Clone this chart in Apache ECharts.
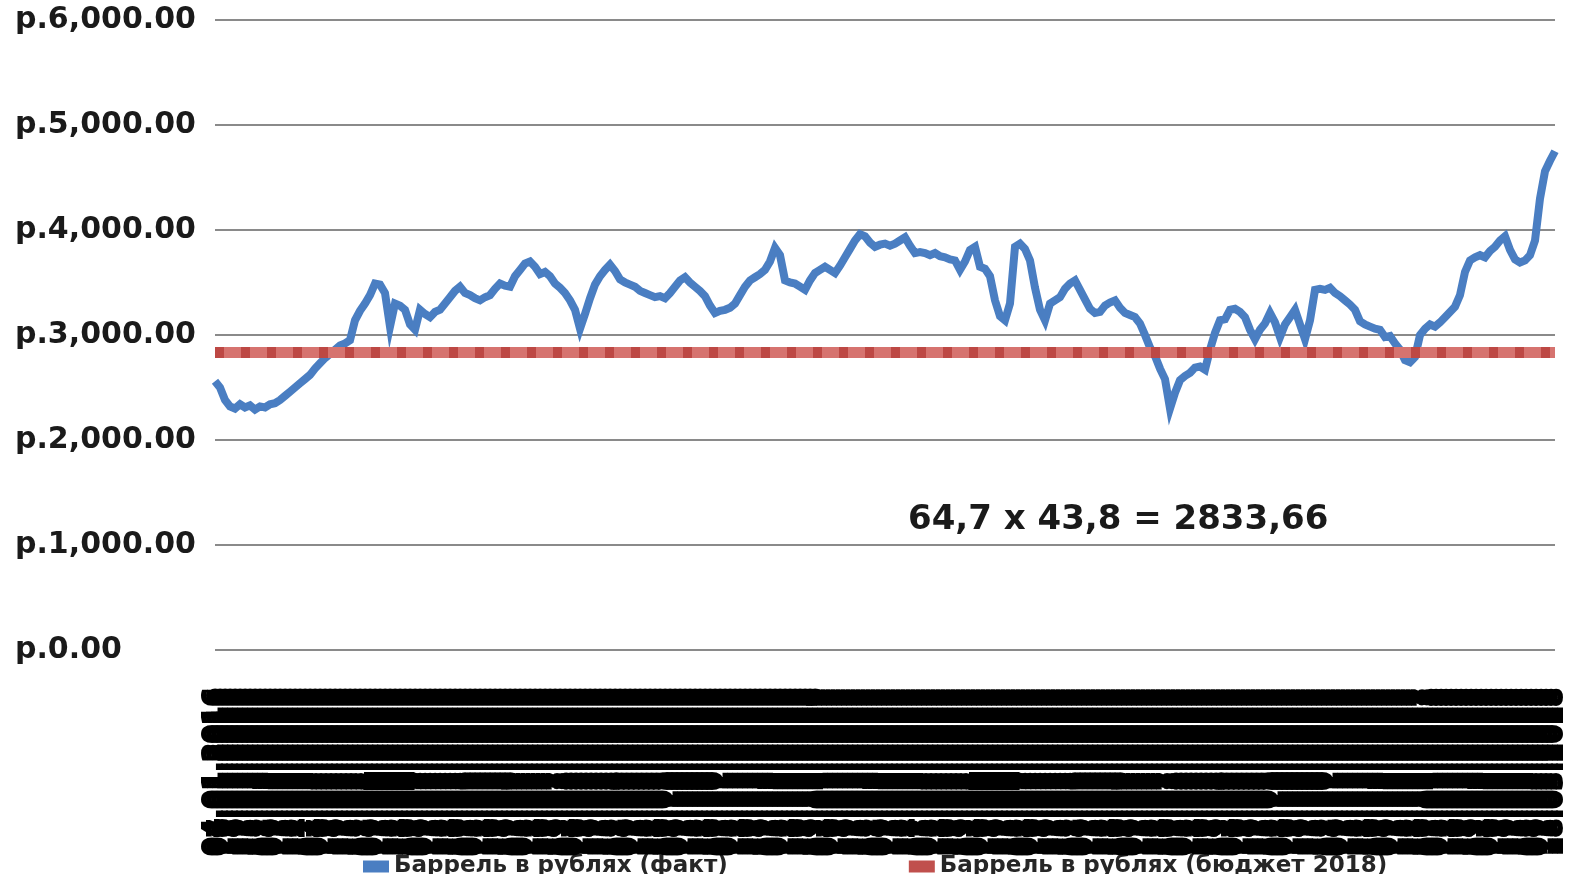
<!DOCTYPE html>
<html>
<head>
<meta charset="utf-8">
<style>
  html, body { margin: 0; padding: 0; background: #ffffff; }
  #chart { width: 1572px; height: 874px; }
</style>
<script src="https://cdn.jsdelivr.net/npm/echarts@6/dist/echarts.min.js"></script>
</head>
<body>
<div id="chart"></div>
<script>
// Цена барреля Brent в рублях: факт против заложенной в бюджет 2018
const seriesNames = ['Баррель в рублях (факт)', 'Баррель в рублях (бюджет 2018)'];

// Фактическая цена барреля, руб.
const factValues = [
  2560, 2500, 2380, 2320, 2300, 2340, 2310, 2330, 2290, 2320,
  2310, 2340, 2350, 2380, 2420, 2460, 2500, 2540, 2580, 2620,
  2680, 2730, 2780, 2820, 2860, 2900, 2920, 2950, 3140, 3230,
  3300, 3380, 3490, 3480, 3400, 3080, 3300, 3280, 3240, 3100,
  3050, 3240, 3200, 3170, 3220, 3240, 3300, 3360, 3420, 3460,
  3400, 3380, 3350, 3330, 3360, 3380, 3440, 3490, 3470, 3460,
  3560, 3620, 3680, 3700, 3650, 3580, 3600, 3560, 3490, 3450,
  3400, 3330, 3240, 3060, 3200, 3350, 3480, 3560, 3620, 3670,
  3610, 3530, 3500, 3480, 3460, 3420, 3400, 3380, 3360, 3370,
  3350, 3400, 3460, 3520, 3550, 3500, 3460, 3420, 3370, 3280,
  3210, 3230, 3240, 3260, 3300, 3380, 3460, 3520, 3550, 3580,
  3620, 3700, 3830, 3760, 3520, 3500, 3490, 3460, 3430, 3520,
  3590, 3620, 3650, 3620, 3590, 3660, 3740, 3820, 3900, 3960,
  3940, 3880, 3840, 3860, 3870, 3850, 3870, 3900, 3930, 3850,
  3780, 3790, 3780, 3760, 3780, 3750, 3740, 3720, 3710, 3620,
  3700, 3810, 3840, 3650, 3630, 3560, 3330, 3180, 3140, 3300,
  3840, 3870, 3820, 3710, 3450, 3240, 3140, 3300, 3330, 3360,
  3440, 3490, 3520, 3430, 3340, 3250, 3210, 3220, 3280, 3310,
  3330, 3260, 3210, 3190, 3170, 3110, 3000, 2880, 2800, 2680,
  2580, 2300, 2450, 2570, 2610, 2640, 2690, 2700, 2670, 2860,
  3020, 3140, 3150, 3240, 3250, 3220, 3170, 3050, 2960, 3050,
  3110, 3210, 3120, 2980, 3100, 3170, 3240, 3100, 2960, 3140,
  3430, 3440, 3430, 3450, 3400, 3370, 3330, 3290, 3240, 3130,
  3100, 3080, 3060, 3050, 2980, 2990, 2920, 2860, 2760, 2740,
  2790, 3000, 3060, 3100, 3080, 3120, 3170, 3220, 3270, 3380,
  3600, 3710, 3740, 3760, 3740, 3800, 3840, 3900, 3940, 3810,
  3720, 3690, 3710, 3760, 3900, 4300, 4560, 4660, 4750
];

// Бюджет 2018: 64,7 руб./$ x 43,8 $/барр.
const budgetPrice = 2833.66;
const budgetNote = '64,7 x 43,8 = 2833,66';

// Шкала оси Y
const yMin = 0, yMax = 6000, yStep = 1000;

// Даты наблюдений (шаг три дня)
const startDate = new Date(2016, 0, 4);
const dayStep = 3;
const dates = factValues.map((_, i) => {
  const d = new Date(startDate.getTime());
  d.setDate(d.getDate() + i * dayStep);
  const dd = String(d.getDate()).padStart(2, '0');
  const mm = String(d.getMonth() + 1).padStart(2, '0');
  return dd + '.' + mm + '.' + d.getFullYear();
});
const budgetValues = factValues.map(() => budgetPrice);

const BLUE = '#4a7ec2';
const RED = '#c0504d';
const FONT = 'DejaVu Sans';

const chart = echarts.init(document.getElementById('chart'), null, { renderer: 'canvas' });
chart.setOption({
  animation: false,
  backgroundColor: '#ffffff',
  grid: { left: 215, right: 17, top: 20, bottom: 224, containLabel: false },
  legend: {
    data: [
      { name: seriesNames[0], icon: 'rect', itemStyle: { color: BLUE } },
      { name: seriesNames[1], icon: 'rect', itemStyle: { color: RED } }
    ],
    left: 358,
    top: 850,
    z: 1,
    itemWidth: 26,
    itemHeight: 12,
    itemGap: 181,
    textStyle: { fontFamily: FONT, fontWeight: 'bold', fontSize: 23, color: '#262626' }
  },
  xAxis: {
    type: 'category',
    data: dates,
    boundaryGap: false,
    z: 10,
    axisLine: { show: false },
    axisTick: { show: false },
    splitLine: { show: false },
    axisLabel: {
      interval: 0,
      rotate: 90,
      margin: 38,
      color: '#000000',
      textBorderColor: '#000000',
      textBorderWidth: 2,
      fontFamily: FONT,
      fontWeight: 'bold',
      fontSize: 26.5
    }
  },
  yAxis: {
    type: 'value',
    min: yMin,
    max: yMax,
    interval: yStep,
    axisLine: { show: false },
    axisTick: { show: false },
    splitLine: { lineStyle: { color: '#8a8a8a', width: 2 } },
    axisLabel: {
      margin: 200,
      align: 'left',
      color: '#1a1a1a',
      fontFamily: FONT,
      fontWeight: 'bold',
      fontSize: 30,
      formatter: v => 'р.' + v.toLocaleString('en-US', { minimumFractionDigits: 2, maximumFractionDigits: 2 })
    }
  },
  series: [
    {
      name: seriesNames[0],
      type: 'line',
      data: factValues,
      symbol: 'none',
      lineStyle: { color: BLUE, width: 8, join: 'miter' },
      itemStyle: { color: BLUE },
      z: 2
    },
    {
      name: seriesNames[1],
      type: 'line',
      data: budgetValues,
      symbol: 'none',
      lineStyle: { color: '#d6736f', width: 11 },
      itemStyle: { color: RED },
      z: 3
    },
    {
      name: 'budget-dash',
      type: 'line',
      data: budgetValues,
      symbol: 'none',
      silent: true,
      lineStyle: { color: '#bd4844', width: 11, type: [9, 17] },
      z: 4
    }
  ],
  graphic: [
    {
      type: 'text',
      left: 908,
      top: 503,
      style: {
        text: budgetNote,
        fontFamily: FONT,
        fontWeight: 'bold',
        fontSize: 34,
        fill: '#1a1a1a'
      }
    }
  ]
});
</script>
</body>
</html>
